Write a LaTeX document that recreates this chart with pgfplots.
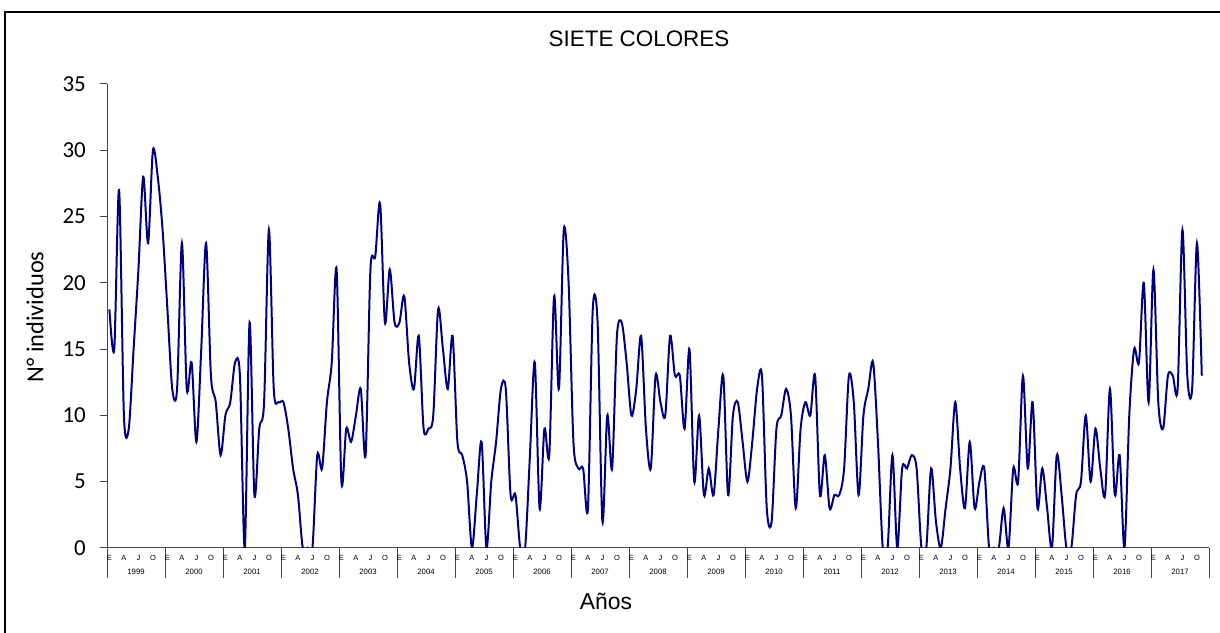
\documentclass[border=0pt]{standalone}
\usepackage{pgfplots}
\usepackage{pgfplotstable}
\pgfplotsset{compat=1.18}
\usepackage{fontspec}
\setmainfont{Liberation Sans}
\newfontfamily\carlito{Carlito}
\definecolor{navyline}{RGB}{0,0,128}
\definecolor{axisgray}{RGB}{70,70,70}

\pgfplotstableread{
i v
0 18
1 15
2 27
3 10
4 9
5 15
6 21
7 28
8 23
9 30
10 28
11 24
12 18
13 12
14 12
15 23
16 12
17 14
18 8
19 15
20 23
21 13
22 11
23 7
24 10
25 11
26 14
27 13
28 0
29 17
30 4
31 9
32 11
33 24
34 12
35 11
36 11
37 9
38 6
39 4
40 0
41 0
42 0
43 7
44 6
45 11
46 14
47 21
48 5
49 9
50 8
51 10
52 12
53 7
54 21
55 22
56 26
57 17
58 21
59 17
60 17
61 19
62 14
63 12
64 16
65 9
66 9
67 10
68 18
69 15
70 12
71 16
72 8
73 7
74 5
75 0
76 4
77 8
78 0
79 5
80 8
81 12
82 12
83 4
84 4
85 0
86 0
87 7
88 14
89 3
90 9
91 7
92 19
93 12
94 24
95 20
96 8
97 6
98 6
99 3
100 18
101 17
102 2
103 10
104 6
105 16
106 17
107 14
108 10
109 12
110 16
111 9
112 6
113 13
114 11
115 10
116 16
117 13
118 13
119 9
120 15
121 5
122 10
123 4
124 6
125 4
126 9
127 13
128 4
129 10
130 11
131 8
132 5
133 8
134 12
135 13
136 3
137 2
138 9
139 10
140 12
141 10
142 3
143 9
144 11
145 10
146 13
147 4
148 7
149 3
150 4
151 4
152 6
153 13
154 11
155 4
156 10
157 12
158 14
159 8
160 0
161 0
162 7
163 0
164 6
165 6
166 7
167 6
168 0
169 0
170 6
171 2
172 0
173 3
174 6
175 11
176 6
177 3
178 8
179 3
180 5
181 6
182 0
183 0
184 0
185 3
186 0
187 6
188 5
189 13
190 6
191 11
192 3
193 6
194 3
195 0
196 7
197 4
198 0
199 0
200 4
201 5
202 10
203 5
204 9
205 6
206 4
207 12
208 4
209 7
210 0
211 10
212 15
213 14
214 20
215 11
216 21
217 11
218 9
219 13
220 13
221 12
222 24
223 13
224 12
225 23
226 13
}\datatable

\begin{document}
\begin{tikzpicture}[x=1bp,y=1bp]
\useasboundingbox (0,0) rectangle (1220,633);
\draw[line width=1.7bp] (4.8,0) -- (4.8,621.3) -- (1220,621.3);
\node[font=\fontsize{22.5}{24}\selectfont] at (639,594) {SIETE COLORES};
\node[font=\carlito\fontsize{24.5}{26}\selectfont, rotate=90] at (35,316) {N° individuos};
\node[font=\fontsize{23}{24}\selectfont] at (606,32) {Años};
\begin{axis}[
  at={(107bp,85bp)}, anchor=south west,
  scale only axis, width=1102bp, height=464bp,
  xmin=-0.5, xmax=227.5, ymin=0, ymax=35,
  axis x line*=bottom, axis y line*=left,
  axis line style={draw=axisgray, line width=1bp},
  clip mode=individual,
  tick align=outside,
  ytick={0,5,...,35},
  major tick length=7bp,
  minor tick length=30bp,
  ytick style={draw=axisgray, line width=1bp},
  major x tick style={draw=none},
  minor x tick style={draw=axisgray, line width=1bp},
  minor xtick={-0.5,11.5,...,227.5},
  /pgf/number format/assume math mode=true,
  yticklabel style={font=\carlito\fontsize{23}{23}\selectfont, anchor=east, inner sep=0pt, xshift=-14bp},
  xtick={0,3,...,225},
  xticklabels={E,A,J,O,E,A,J,O,E,A,J,O,E,A,J,O,E,A,J,O,E,A,J,O,E,A,J,O,E,A,J,O,E,A,J,O,E,A,J,O,E,A,J,O,E,A,J,O,E,A,J,O,E,A,J,O,E,A,J,O,E,A,J,O,E,A,J,O,E,A,J,O,E,A,J,O},
  xticklabel style={font=\fontsize{7.5}{7.5}\selectfont, anchor=center, inner sep=0pt, yshift=-2.5bp},
]
\addplot[navyline, line width=2bp, smooth] table[x=i, y=v] {\datatable};
\pgfplotsinvokeforeach{0,...,18}{
  \node[font=\fontsize{7.8}{8}\selectfont, anchor=center, inner sep=0pt] at (axis cs:{#1*12+5.5},0) [yshift=-24bp] {\pgfmathtruncatemacro\yr{1999+#1}\yr};
}
\end{axis}
\end{tikzpicture}
\end{document}
